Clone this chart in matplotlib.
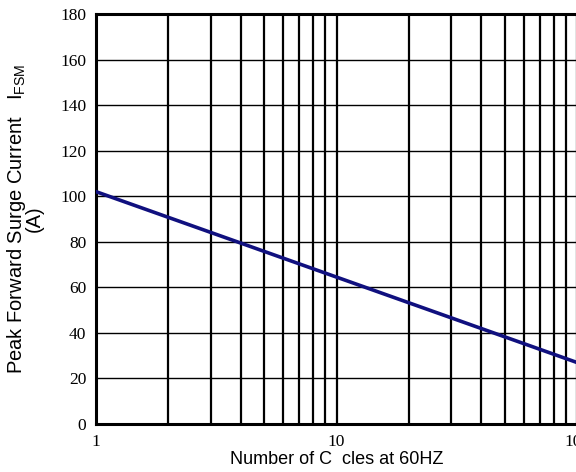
import numpy as np
import matplotlib
matplotlib.use('Agg')
from matplotlib import pyplot as plt
from matplotlib.ticker import FixedLocator, NullFormatter

# values
cycles = [1, 100]
current = [102, 27]
y_ticks = [0, 20, 40, 60, 80, 100, 120, 140, 160, 180]
x_ticks = [1, 10, 100]
x_ticklabels = ['1', '10', '100']

fig = plt.figure(figsize=(5.76, 4.72), dpi=100)
ax = fig.add_axes([96/576, 48/472, 481/576, 410/472])

ax.plot(cycles, current, color='#10107f', linewidth=2.6, zorder=3)

ax.set_xscale('log')
ax.set_xlim(1, 100)
ax.set_ylim(0, 180)

ax.set_xticks(x_ticks)
ax.set_xticklabels(x_ticklabels)
ax.xaxis.set_minor_locator(FixedLocator([d * k for d in (1, 10) for k in range(2, 10)]))
ax.xaxis.set_minor_formatter(NullFormatter())
ax.set_yticks(y_ticks)

ax.grid(True, which='both', axis='x', color='black', linewidth=1.6)
ax.grid(True, which='major', axis='y', color='black', linewidth=1.0)
ax.tick_params(which='both', length=0, pad=7)
for lab in ax.get_xticklabels() + ax.get_yticklabels():
	lab.set_fontfamily('Liberation Serif')
	lab.set_fontsize(12.5)

for s in ax.spines.values():
	s.set_linewidth(2.2)
	s.set_color('black')
ax.spines['right'].set_visible(False)

ax.set_xlabel('Number of C  cles at 60HZ', fontfamily='Liberation Sans', fontsize=13, labelpad=1)
ax.set_ylabel('Peak Forward Surge Current   I$_{\\mathregular{FSM}}$\n(A)',
			  fontfamily='Liberation Sans', fontsize=14.5, labelpad=12, linespacing=0.75)

fig.savefig('out.png', dpi=100)
